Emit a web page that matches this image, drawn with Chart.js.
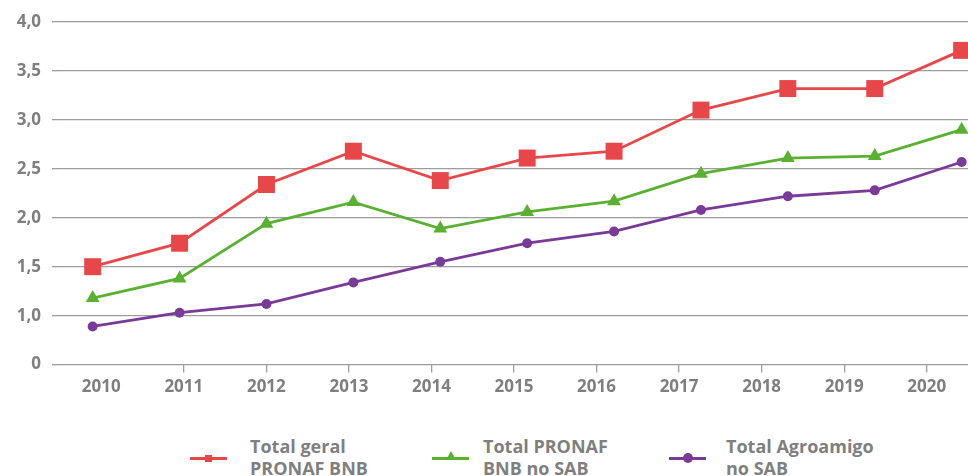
<!DOCTYPE html>
<html>
<head>
<meta charset="utf-8">
<script src="https://cdn.jsdelivr.net/npm/chart.js@4/dist/chart.umd.min.js"></script>
<style>
  html, body { margin: 0; padding: 0; background: #fff; }
  #wrap { position: relative; width: 968px; height: 476px; overflow: hidden; }
  #chart_box { position: absolute; left: 0; top: 0; width: 968px; height: 401px; }
  #legend { position: absolute; top: 435px; left: 0; width: 968px; height: 41px; font-family: "Open Sans", sans-serif; }
  .leg_item { position: absolute; top: 0; height: 41px; }
  .leg_line { position: absolute; top: 22px; left: 0; width: 37px; height: 3px; }
  .leg_mark { position: absolute; }
  .leg_text { position: absolute; top: 0; white-space: nowrap; font-weight: 700; font-size: 18px; line-height: 22px; color: #7f7f7f; }
</style>
</head>
<body>
<div id="wrap">
  <div id="chart_box"><canvas id="line_chart"></canvas></div>
  <div id="legend"></div>
</div>
<script>
var years = ["2010", "2011", "2012", "2013", "2014", "2015", "2016", "2017", "2018", "2019", "2020"];
var series_names = [["Total geral", "PRONAF BNB"], ["Total PRONAF", "BNB no SAB"], ["Total Agroamigo", "no SAB"]];
var total_geral = [1.50, 1.74, 2.34, 2.68, 2.38, 2.61, 2.68, 3.10, 3.32, 3.32, 3.71];
var total_pronaf_sab = [1.18, 1.38, 1.94, 2.16, 1.89, 2.06, 2.17, 2.45, 2.61, 2.63, 2.90];
var total_agroamigo_sab = [0.89, 1.03, 1.12, 1.34, 1.55, 1.74, 1.86, 2.08, 2.22, 2.28, 2.57];
var y_ticks = [0.5, 1.0, 1.5, 2.0, 2.5, 3.0, 3.5, 4.0];

var colours = ['#e8474a', '#5ab030', '#7a3a97'];
var markers = ['rect', 'triangle', 'circle'];
var marker_sizes = [12, 8, 5];
var text_grey = '#7f7f7f';
var grid_grey = '#9d9d9d';

function to_points(values) {
    let pts = [];
    for (let i = 0; i < values.length; i++) {
        pts.push({x: i, y: values[i]});
    }
    return pts;
}

var all_values = [total_geral, total_pronaf_sab, total_agroamigo_sab];
var datasets = [];
for (let i = 0; i < all_values.length; i++) {
    datasets.push({
        label: series_names[i].join(' '),
        data: to_points(all_values[i]),
        xAxisID: 'xp',
        borderColor: colours[i],
        backgroundColor: colours[i],
        borderWidth: 2.8,
        pointStyle: markers[i],
        pointRadius: marker_sizes[i],
        pointHoverRadius: marker_sizes[i],
        pointBorderWidth: 0,
        tension: 0,
        clip: false
    });
}

var line_chart = new Chart(document.getElementById('line_chart').getContext('2d'), {
    type: 'line',
    data: {
        labels: years,
        datasets: datasets
    },
    options: {
        responsive: true,
        maintainAspectRatio: false,
        animation: false,
        layout: {
            autoPadding: false,
            padding: {top: 22, right: 0, bottom: 0, left: 0}
        },
        plugins: {
            legend: {display: false},
            tooltip: {enabled: false}
        },
        scales: {
            x: {
                type: 'category',
                position: 'bottom',
                offset: true,
                border: {display: false},
                grid: {
                    drawOnChartArea: false,
                    drawTicks: true,
                    tickLength: 8,
                    lineWidth: 1.3,
                    color: function (ctx) {
                        return ctx.index === 0 ? 'rgba(0,0,0,0)' : grid_grey;
                    }
                },
                ticks: {
                    color: text_grey,
                    padding: 4,
                    font: {family: 'Open Sans', size: 17, weight: 'bold'}
                }
            },
            xp: {
                type: 'linear',
                display: false,
                min: -0.376,
                max: 10.073
            },
            y: {
                min: y_ticks[0],
                max: y_ticks[y_ticks.length - 1],
                border: {display: false},
                afterBuildTicks: function (axis) {
                    axis.ticks = y_ticks.map(function (v) { return {value: v}; });
                },
                afterFit: function (axis) {
                    axis.width = 60;
                },
                grid: {
                    color: grid_grey,
                    lineWidth: 1.3,
                    tickLength: 8
                },
                ticks: {
                    color: text_grey,
                    padding: 11,
                    font: {family: 'Open Sans', size: 17, weight: 'bold'},
                    callback: function (value) {
                        if (value === y_ticks[0]) {
                            return '0';
                        }
                        return value.toFixed(1).replace('.', ',');
                    }
                }
            }
        }
    }
});

// legend with two-line labels
var legend_left = [190, 432, 669];
var text_left = [60, 51, 57];
var legend_html = '';
for (let i = 0; i < series_names.length; i++) {
    let c = colours[i];
    let mark = '';
    if (markers[i] === 'rect') {
        mark = '<div class="leg_mark" style="left:15px;top:20px;width:7px;height:7px;background:' + c + '"></div>';
    } else if (markers[i] === 'triangle') {
        mark = '<div class="leg_mark" style="left:14px;top:16px;width:0;height:0;border-left:5px solid transparent;border-right:5px solid transparent;border-bottom:9px solid ' + c + '"></div>';
    } else {
        mark = '<div class="leg_mark" style="left:14px;top:18px;width:10px;height:10px;border-radius:50%;background:' + c + '"></div>';
    }
    legend_html += '<div class="leg_item" style="left:' + legend_left[i] + 'px">' +
        '<div class="leg_line" style="background:' + c + '"></div>' + mark +
        '<div class="leg_text" style="left:' + text_left[i] + 'px">' +
        series_names[i][0] + '<br>' + series_names[i][1] + '</div></div>';
}
document.getElementById('legend').innerHTML = legend_html;
</script>
</body>
</html>
